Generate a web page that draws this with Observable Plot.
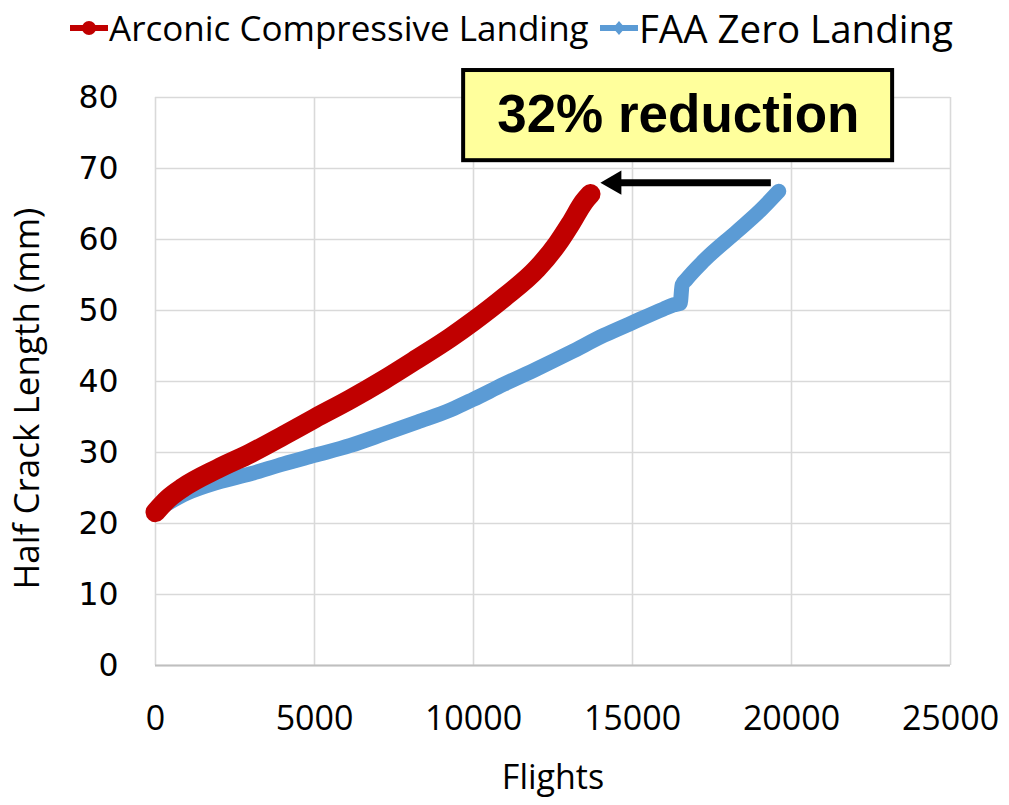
<!DOCTYPE html>
<html>
<head>
<meta charset="utf-8">
<script src="https://cdn.jsdelivr.net/npm/d3@7"></script>
<script src="https://cdn.jsdelivr.net/npm/@observablehq/plot@0.6"></script>
<style>
  html, body { margin: 0; padding: 0; background: #fff; }
  #wrap { position: relative; width: 1009px; height: 805px; overflow: hidden; }
  #legend { position: relative; width: 1009px; height: 55px; font-family: "Open Sans", sans-serif; color: #000; }
  .item { position: absolute; top: 0; height: 55px; display: flex; align-items: center; white-space: nowrap; }
  .item svg { display: block; margin-right: 1px; }
</style>
</head>
<body>
<div id="wrap">
  <div id="legend"></div>
  <div id="chart"></div>
</div>
<script>
// ---- Data ----
const seriesNames = ["Arconic Compressive Landing", "FAA Zero Landing"];
const seriesColors = ["#C00000", "#5B9BD5"];

const flightsArconic = [0, 400, 880, 1950, 2990, 4030, 5000, 6130, 7170, 8240, 9280, 10000, 10950, 12000, 12640, 13050, 13470, 13680];
const crackArconic   = [21.6, 23.5, 25.1, 27.7, 29.9, 32.4, 34.8, 37.5, 40.2, 43.2, 46.2, 48.5, 51.8, 55.9, 59.4, 62.2, 65.3, 66.4];

const flightsFAA = [0, 1000, 1950, 2990, 4030, 5000, 6130, 7170, 8240, 9280, 10000, 10950, 12000, 13050, 14100, 15000, 15970, 16300, 16500, 16560, 16700, 17240, 18300, 19020, 19600];
const crackFAA   = [21.8, 24.3, 25.8, 27.0, 28.4, 29.6, 31.0, 32.6, 34.3, 36.0, 37.5, 39.6, 41.8, 44.1, 46.5, 48.3, 50.2, 50.8, 51.0, 53.6, 54.4, 57.0, 61.2, 64.1, 66.8];

const xTicks = [0, 5000, 10000, 15000, 20000, 25000];
const yTicks = [0, 10, 20, 30, 40, 50, 60, 70, 80];

const xLabel = "Flights";
const yLabel = "Half Crack Length (mm)";

// annotation
const calloutText = ["32% reduction"];
const calloutBox = [{x1: 9690, x2: 23180, y1: 71.1, y2: 83.8}];
const arrowShaft = [{x1: 19350, x2: 14500, y: 68.0}];
const arrowHead = [{x: 14430, y: 68.0}];

// ---- build tables ----
const arconic = flightsArconic.map((f, i) => ({flights: f, crack: crackArconic[i]}));
const faa = flightsFAA.map((f, i) => ({flights: f, crack: crackFAA[i]}));

// ---- legend ----
const legend = document.getElementById("legend");
const legendPos = [70, 600];
const legendSize = [35, 38.5];
seriesNames.forEach((name, i) => {
  const item = document.createElement("div");
  item.className = "item";
  item.style.left = legendPos[i] + "px";
  item.style.fontSize = legendSize[i] + "px";
  const marker = i === 0
    ? `<circle cx="19" cy="10" r="7" fill="${seriesColors[i]}"/>`
    : `<path d="M19 3 L25 10 L19 17 L13 10 Z" fill="${seriesColors[i]}"/>`;
  item.innerHTML = `<svg width="38" height="20"><line x1="0" y1="10" x2="38" y2="10" stroke="${seriesColors[i]}" stroke-width="6"/>${marker}</svg><span>${name}</span>`;
  legend.appendChild(item);
});

// ---- chart ----
const chart = Plot.plot({
  width: 1009,
  height: 750,
  marginLeft: 155,
  marginRight: 59,
  marginTop: 42,
  marginBottom: 140,
  style: {background: "#fff", overflow: "visible"},
  x: {domain: [0, 25000]},
  y: {domain: [0, 80]},
  marks: [
    Plot.gridX(xTicks, {stroke: "#d9d9d9", strokeOpacity: 1, strokeWidth: 1.6}),
    Plot.gridY(yTicks, {stroke: "#d9d9d9", strokeOpacity: 1, strokeWidth: 1.6}),
    Plot.ruleY([0], {stroke: "#bfbfbf", strokeWidth: 2}),
    Plot.axisX({ticks: xTicks, tickSize: 0, tickPadding: 40, tickFormat: d3.format("d"), label: null,
      fontSize: 34, fontFamily: "Open Sans, sans-serif", fill: "#000"}),
    Plot.axisY({ticks: yTicks, tickSize: 0, tickPadding: 37, tickFormat: d3.format("d"), label: null,
      fontSize: 31.5, fontFamily: "DejaVu Sans, sans-serif", fill: "#000"}),
    Plot.text([xLabel], {frameAnchor: "bottom", dy: 113, fontSize: 34, fontFamily: "Open Sans, sans-serif", fill: "#000", lineAnchor: "middle"}),
    Plot.text([yLabel], {frameAnchor: "left", textAnchor: "middle", dx: -128, dy: 17, rotate: -90, fontSize: 35, fontFamily: "Open Sans, sans-serif", fill: "#000", lineAnchor: "middle"}),
    Plot.line(faa, {x: "flights", y: "crack", stroke: seriesColors[1], strokeWidth: 15, strokeLinecap: "round", strokeLinejoin: "round", curve: "monotone-x"}),
    Plot.line(arconic, {x: "flights", y: "crack", stroke: seriesColors[0], strokeWidth: 20, strokeLinecap: "round", strokeLinejoin: "round", curve: "monotone-x"}),
    Plot.link(arrowShaft, {x1: "x1", x2: "x2", y1: "y", y2: "y", stroke: "#000", strokeWidth: 7, ariaLabel: "callout arrow"}),
    Plot.dot(arrowHead, {x: "x", y: "y", symbol: "triangle", r: 9, rotate: -90, fill: "#000", stroke: "none", ariaLabel: "callout head"}),
    Plot.rect(calloutBox, {x1: "x1", x2: "x2", y1: "y1", y2: "y2", fill: "#ffff9c", stroke: "#000", strokeWidth: 4, ariaLabel: "callout box"}),
    Plot.text(calloutText, {x: () => 16440, y: () => 77.6, fontSize: 53, fontWeight: "bold", fontFamily: "Liberation Sans, Arial, sans-serif", fill: "#000", lineAnchor: "middle"})
  ]
});
document.getElementById("chart").appendChild(chart);
d3.select(chart).selectAll('[aria-label="callout box"], [aria-label="callout arrow"], [aria-label="callout head"]')
  .style("filter", "drop-shadow(3px 3px 3px rgba(0,0,0,0.35))");
</script>
</body>
</html>
